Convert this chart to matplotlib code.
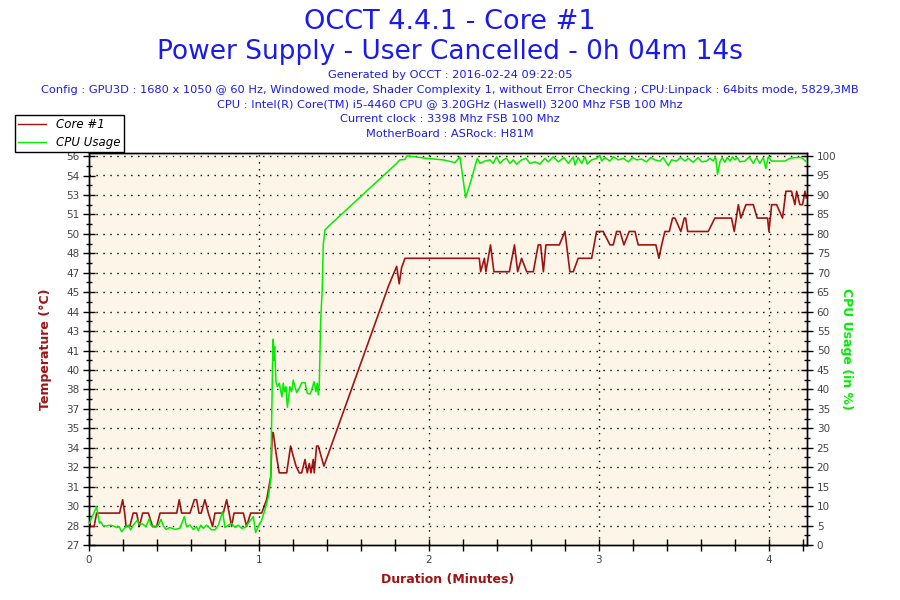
import matplotlib.pyplot as plt
from matplotlib.lines import Line2D
from matplotlib.ticker import MultipleLocator, FixedLocator

# ---- data ----
core_time = [0.00, 0.01, 0.03, 0.045, 0.18, 0.198, 0.21, 0.218, 0.24, 0.26, 0.28, 0.296,
             0.316, 0.349, 0.374, 0.398, 0.418, 0.516, 0.531, 0.545, 0.594, 0.62, 0.633,
             0.647, 0.66, 0.682, 0.702, 0.727, 0.741, 0.79, 0.81, 0.839, 0.853, 0.908,
             0.927, 0.951, 1.016, 1.045, 1.069, 1.078, 1.084, 1.1, 1.119, 1.163, 1.186,
             1.196, 1.218, 1.237, 1.251, 1.271, 1.284, 1.296, 1.306, 1.319, 1.325, 1.339,
             1.349, 1.382, 1.761, 1.81, 1.825, 1.839, 1.859, 2.296, 2.304, 2.326, 2.335,
             2.362, 2.382, 2.473, 2.503, 2.522, 2.545, 2.575, 2.614, 2.643, 2.657, 2.673,
             2.688, 2.767, 2.8, 2.829, 2.849, 2.878, 2.957, 2.986, 3.025, 3.065, 3.084,
             3.104, 3.124, 3.147, 3.178, 3.212, 3.231, 3.335, 3.353, 3.369, 3.388, 3.414,
             3.433, 3.447, 3.482, 3.502, 3.51, 3.522, 3.643, 3.682, 3.78, 3.796, 3.82,
             3.835, 3.865, 3.908, 3.931, 3.992, 4.0, 4.016, 4.045, 4.08, 4.1, 4.133,
             4.153, 4.163, 4.182, 4.198, 4.212, 4.22]
core_temp = [28.5, 28, 28, 29, 29, 30, 29, 28, 28, 29, 29, 28,
             29, 29, 28, 28, 29, 29, 30, 29, 29, 30, 30,
             29, 29, 30, 29, 28, 29, 29, 30, 28, 29, 29,
             28, 29, 29, 30, 31.7, 35, 35, 33.5, 32, 32, 34,
             33.5, 32.5, 32, 32, 33, 32, 32.7, 32, 33, 32, 34,
             34, 32.5, 45.9, 47.4, 46.1, 47.3, 48, 48, 47, 48, 47,
             49, 47, 47, 49, 47, 48, 47, 47, 49, 49, 47,
             49, 49, 50, 47, 47, 48, 48, 50, 50, 49, 49,
             50, 50, 49, 50, 50, 49, 49, 48, 49, 50, 50,
             51, 51, 50, 51, 51, 50, 50, 51, 51, 50, 52,
             51, 52, 52, 51, 51, 50, 52, 52, 51, 53, 53,
             52, 53, 52, 52, 53, 52.5]

cpu_time = [0.002, 0.045, 0.061, 0.069, 0.084, 0.104, 0.124, 0.143, 0.163, 0.178, 0.192,
            0.212, 0.231, 0.245, 0.261, 0.284, 0.296, 0.316, 0.335, 0.355, 0.363, 0.388,
            0.408, 0.424, 0.437, 0.453, 0.476, 0.506, 0.535, 0.561, 0.574, 0.594, 0.614,
            0.633, 0.643, 0.657, 0.673, 0.692, 0.721, 0.741, 0.761, 0.786, 0.8, 0.82,
            0.839, 0.859, 0.878, 0.898, 0.918, 0.937, 0.951, 0.967, 0.98, 0.996, 1.016,
            1.035, 1.055, 1.069, 1.075, 1.08, 1.084, 1.088, 1.092, 1.1, 1.108, 1.12, 1.127,
            1.135, 1.143, 1.151, 1.159, 1.167, 1.175, 1.182, 1.192, 1.202, 1.212, 1.222,
            1.237, 1.251, 1.271, 1.284, 1.3, 1.31, 1.324, 1.335, 1.343, 1.349, 1.355,
            1.363, 1.372, 1.378, 1.388, 1.418, 1.81, 1.829, 1.859, 1.869, 1.918, 1.986,
            2.084, 2.153, 2.182, 2.216, 2.251, 2.284, 2.3, 2.329, 2.359, 2.378, 2.398,
            2.418, 2.437, 2.457, 2.476, 2.496, 2.516, 2.545, 2.571, 2.594, 2.624, 2.653,
            2.682, 2.702, 2.731, 2.761, 2.794, 2.82, 2.849, 2.859, 2.878, 2.898, 2.918,
            2.931, 2.957, 2.986, 3.006, 3.016, 3.035, 3.065, 3.084, 3.114, 3.143, 3.173,
            3.198, 3.222, 3.251, 3.28, 3.304, 3.329, 3.359, 3.378, 3.408, 3.427, 3.457,
            3.48, 3.506, 3.525, 3.555, 3.584, 3.604, 3.633, 3.653, 3.673, 3.686, 3.698,
            3.712, 3.725, 3.741, 3.755, 3.771, 3.786, 3.8, 3.814, 3.829, 3.859, 3.884,
            3.908, 3.927, 3.947, 3.967, 3.982, 3.996, 4.016, 4.094, 4.124, 4.153, 4.192,
            4.22]
cpu_usage = [5.6, 9.8, 5.6, 6.0, 4.9, 4.9, 5.1, 4.9, 4.5, 4.7, 3.4,
             4.5, 5.1, 3.9, 5.1, 6.4, 5.4, 5.4, 4.7, 6.8, 5.1, 4.5,
             5.1, 6.6, 4.9, 4.0, 4.5, 4.0, 4.3, 7.3, 4.7, 5.1, 4.0,
             4.7, 3.7, 5.1, 4.3, 5.1, 3.9, 3.9, 5.1, 8.6, 4.5, 5.1,
             5.6, 4.5, 5.1, 4.3, 4.5, 5.6, 6.4, 7.3, 3.2, 4.7, 6.4,
             9.0, 12.4, 16.7, 33.8, 46.7, 52.9, 47.5, 51.0, 42.0, 40.7, 41.6, 39.8,
             38.1, 41.6, 39.4, 40.7, 35.4, 38.1, 40.7, 39.4, 42.4, 40.7, 39.2,
             40.3, 41.7, 41.7, 39.0, 38.8, 39.8, 42.0, 39.4, 41.6, 38.6, 41.6,
             57.8, 65.6, 77.1, 81.0, 82.3, 98.1, 99.0, 99.1, 100.0, 99.8, 99.4,
             99.0, 98.3, 99.8, 89.3, 94.2, 99.4, 98.1, 98.7, 99.0, 98.1, 99.8,
             98.1, 99.0, 99.4, 98.1, 99.0, 97.9, 99.0, 99.4, 98.1, 98.5, 97.9,
             99.4, 98.5, 99.8, 98.5, 99.6, 98.1, 99.8, 97.7, 99.6, 98.1, 99.8,
             97.9, 99.0, 99.4, 100.1, 98.7, 99.6, 98.7, 99.8, 99.0, 99.4, 98.5,
             99.6, 99.0, 99.2, 98.5, 99.6, 99.0, 98.7, 99.6, 97.5, 99.0, 98.7,
             99.6, 98.7, 99.4, 98.4, 99.6, 98.5, 98.7, 99.4, 98.7, 99.8, 95.3,
             98.5, 99.6, 98.4, 99.6, 98.7, 99.8, 99.0, 99.6, 98.5, 98.7, 99.8,
             98.1, 99.6, 98.1, 99.6, 96.8, 99.8, 98.7, 98.7, 99.4, 99.6, 99.6,
             98.5]

temp_tick_labels = ['27', '28', '30', '31', '32', '34', '35', '37', '38', '40', '41',
                    '43', '44', '45', '47', '48', '50', '51', '53', '54', '56']
usage_ticks = list(range(0, 101, 5))
minute_ticks = [0, 1, 2, 3, 4]

title_lines = ['OCCT 4.4.1 - Core #1', 'Power Supply - User Cancelled - 0h 04m 14s']
info_lines = ['Generated by OCCT : 2016-02-24 09:22:05',
              'Config : GPU3D : 1680 x 1050 @ 60 Hz, Windowed mode, Shader Complexity 1, '
              'without Error Checking ; CPU:Linpack : 64bits mode, 5829,3MB',
              'CPU : Intel(R) Core(TM) i5-4460 CPU @ 3.20GHz (Haswell) 3200 Mhz FSB 100 Mhz',
              'Current clock : 3398 Mhz FSB 100 Mhz',
              'MotherBoard : ASRock: H81M']

# colours
BLUE = '#1a1aee'
RED = '#9e1414'
GREEN = '#00ee00'
TICK_GREY = '#444444'

# temperature scale used by OCCT: 21 gridlines, 1.45 degC apart
t_min, t_step = 26.62, 1.45
temp_ticks = [t_min + t_step * k for k in range(21)]

fig = plt.figure(figsize=(9, 6), dpi=100)
ax = fig.add_axes([89 / 900, 1 - 545 / 600, 718 / 900, 392 / 600])
ax2 = ax.twinx()

ax.set_facecolor('#fdf6e8')
ax.set_xlim(0, 4.224)
ax.set_ylim(t_min, t_min + 392 / 13.41)
ax2.set_ylim(0, 392 / 3.89)

# gridlines (dotted)
for u in usage_ticks[1:]:
    ax2.axhline(u, color='black', linestyle=(0, (1, 4)), linewidth=1, zorder=0)
for m in minute_ticks[1:]:
    ax.axvline(m, color='black', linestyle=(0, (1, 4)), linewidth=1, zorder=0)

ax.plot(core_time, core_temp, color=RED, linewidth=1.2, zorder=3)
ax2.plot(cpu_time, cpu_usage, color=GREEN, linewidth=1.1, zorder=3)

# ticks
ax.xaxis.set_major_locator(FixedLocator(minute_ticks))
ax.xaxis.set_minor_locator(MultipleLocator(0.2))
ax.set_xticklabels([str(m) for m in minute_ticks])
ax.set_yticks(temp_ticks)
ax.set_yticklabels(temp_tick_labels)
ax.yaxis.set_minor_locator(FixedLocator([t + t_step / 2 for t in temp_ticks[:-1]]))
ax2.set_yticks(usage_ticks)
ax2.set_yticklabels([str(u) for u in usage_ticks])
ax2.yaxis.set_minor_locator(MultipleLocator(2.5))

ax.tick_params(axis='both', which='major', direction='inout', length=8, width=1,
               labelsize=7.5, labelcolor=TICK_GREY, pad=3)
ax.tick_params(axis='x', which='minor', direction='inout', length=8, width=1)
ax.tick_params(axis='y', which='minor', direction='inout', length=5, width=1)
ax2.tick_params(axis='y', which='major', direction='inout', length=8, width=1,
                labelsize=7.5, labelcolor=TICK_GREY, pad=3)
ax2.tick_params(axis='y', which='minor', direction='inout', length=5, width=1)

for a in (ax, ax2):
    for s in a.spines.values():
        s.set_color('black')
        s.set_linewidth(1)

ax.set_xlabel('Duration (Minutes)', color=RED, fontsize=9, fontweight='bold', labelpad=6)
ax.set_ylabel('Temperature (°C)', color=RED, fontsize=9, fontweight='bold', labelpad=10)
ax2.set_ylabel('CPU Usage (in %)', color=GREEN, fontsize=9, fontweight='bold',
               rotation=-90, labelpad=12)

# titles
fig.text(0.5, 1 - 22 / 600, title_lines[0], ha='center', va='center', color=BLUE, fontsize=19.5)
fig.text(0.5, 1 - 52 / 600, title_lines[1], ha='center', va='center', color=BLUE, fontsize=19)
for i, line in enumerate(info_lines):
    fig.text(0.5, 1 - (75 + 14.7 * i) / 600, line, ha='center', va='center',
             color=BLUE, fontsize=8.2)

# legend box
handles = [Line2D([], [], color=RED, linewidth=1), Line2D([], [], color=GREEN, linewidth=1)]
leg = fig.legend(handles, ['Core #1', 'CPU Usage'], loc='upper left',
                 bbox_to_anchor=(15 / 900, 1 - 115 / 600), frameon=True, fancybox=False,
                 edgecolor='black', framealpha=1, prop={'style': 'italic', 'size': 8.5},
                 handlelength=2.4, handletextpad=0.85, borderpad=0.25, labelspacing=0.45,
                 borderaxespad=0)
leg.get_frame().set_linewidth(1)

fig.savefig('out.png', dpi=100)
